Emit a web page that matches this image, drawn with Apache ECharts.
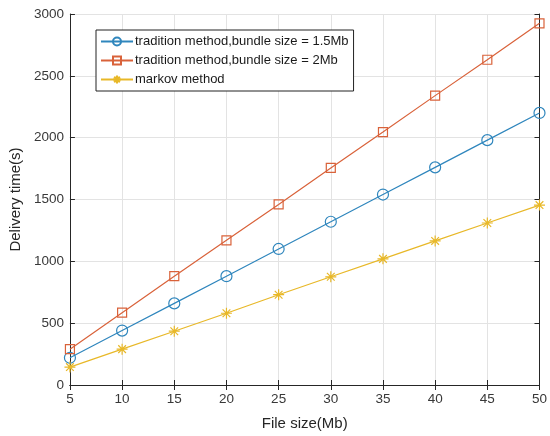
<!DOCTYPE html>
<html><head><meta charset="utf-8">
<script src="https://cdn.jsdelivr.net/npm/echarts@6/dist/echarts.min.js"></script>
<style>html,body{margin:0;padding:0;background:#fff}#c{width:550px;height:436px}</style>
</head><body><div id="c"></div>
<script>
var fileSizes = [5, 10, 15, 20, 25, 30, 35, 40, 45, 50];
var trad15 = [220, 440, 660, 880, 1100, 1320, 1540, 1760, 1980, 2200];
var trad2 = [290, 585, 880, 1170, 1460, 1755, 2045, 2340, 2630, 2925];
var markov = [145, 290, 435, 580, 730, 875, 1020, 1165, 1310, 1455];
var seriesNames = ['tradition method,bundle size = 1.5Mb', 'tradition method,bundle size = 2Mb', 'markov method'];

function pairs(v){ return fileSizes.map(function(x,i){return [x, v[i]];}); }
var star = 'path://M5,0L5,10M0,5L10,5M1.5,1.5L8.5,8.5M1.5,8.5L8.5,1.5';
var font = 'Liberation Sans, Arial, sans-serif';
var axisCol = '#262626';
var chart = echarts.init(document.getElementById('c'));
function mkSeries(name, data, color, symbol, size){
  return {name:name, type:'line', data:pairs(data), symbol:symbol, symbolSize:size,
    showAllSymbol:true, lineStyle:{color:color,width:1.2}, 
    itemStyle:{color:'rgba(255,255,255,0)', borderColor:color, borderWidth:1.2},
    emphasis:{disabled:true}, animation:false, z:3};
}
chart.setOption({
  animation:false,
  grid:{left:69,right:9,top:14,bottom:51},
  legend:{left:96, top:30, orient:'vertical', itemWidth:32, itemHeight:10, itemGap:6,
    borderColor:'#222', borderWidth:1, padding:[5,5,5,4], backgroundColor:'#fff',
    textStyle:{fontFamily:font, fontSize:13, color:'#1a1a1a', padding:[0,0,0,-3]},
    data:seriesNames},
  xAxis:[{type:'value', min:5, max:50, interval:5, name:'File size(Mb)', nameLocation:'middle', nameGap:31,
     nameTextStyle:{fontFamily:font, fontSize:15, color:'#262626'},
     axisLine:{lineStyle:{color:axisCol,width:1}}, axisTick:{inside:true,length:5,lineStyle:{color:axisCol}},
     axisLabel:{fontFamily:font, fontSize:13.5, color:'#383838', margin:7, formatter:function(v){return String(v);}},
     splitLine:{show:true, lineStyle:{color:'#e3e3e3',width:1}}},
    {type:'value', min:5, max:50, interval:5, position:'top',
     axisLine:{lineStyle:{color:axisCol,width:1}}, axisTick:{inside:true,length:5,lineStyle:{color:axisCol}},
     axisLabel:{show:false}, splitLine:{show:false}}],
  yAxis:[{type:'value', min:0, max:3000, interval:500, name:'Delivery time(s)', nameLocation:'middle', nameGap:40,
     nameTextStyle:{fontFamily:font, fontSize:15, color:'#262626'},
     axisLine:{show:true,lineStyle:{color:axisCol,width:1}}, axisTick:{show:true,inside:true,length:5,lineStyle:{color:axisCol}},
     axisLabel:{fontFamily:font, fontSize:13.5, color:'#383838', margin:6, formatter:function(v){return String(v);}},
     splitLine:{show:true, lineStyle:{color:'#e3e3e3',width:1}}},
    {type:'value', min:0, max:3000, interval:500, position:'right',
     axisLine:{show:true,lineStyle:{color:axisCol,width:1}}, axisTick:{show:true,inside:true,length:5,lineStyle:{color:axisCol}},
     axisLabel:{show:false}, splitLine:{show:false}}],
  series:[
    mkSeries(seriesNames[0], trad15, '#2f86bd', 'circle', 11),
    mkSeries(seriesNames[1], trad2, '#d9623a', 'rect', 9),
    mkSeries(seriesNames[2], markov, '#e8b828', star, 11)
  ]
});
</script></body></html>
